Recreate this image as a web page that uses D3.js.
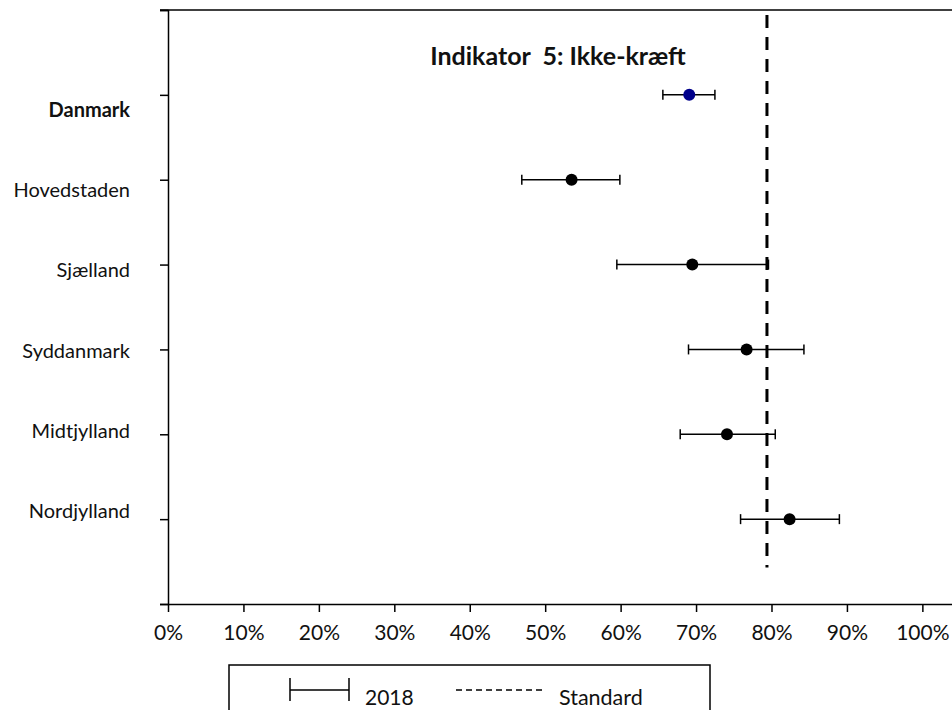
<!DOCTYPE html>
<html>
<head>
<meta charset="utf-8">
<script src="https://cdn.jsdelivr.net/npm/d3@7"></script>
<style>
  body { margin: 0; background: #fff; }
  svg { display: block; font-family: Lato, "Open Sans", sans-serif; }
</style>
</head>
<body>
<svg id="chart" width="952" height="710"></svg>
<script>
// data
const regioner = ['Danmark', 'Hovedstaden', 'Sjælland', 'Syddanmark', 'Midtjylland', 'Nordjylland'];
const andel = [0.691, 0.535, 0.695, 0.767, 0.741, 0.824];
const nedre = [0.656, 0.469, 0.595, 0.690, 0.679, 0.759];
const oevre = [0.725, 0.599, 0.796, 0.843, 0.805, 0.890];
const standard = 0.794;
const standardSpan = [0.06, 6.57];
const xTicks = [0, 0.1, 0.2, 0.3, 0.4, 0.5, 0.6, 0.7, 0.8, 0.9, 1.0];
const titel = 'Indikator  5: Ikke-kræft';

const svg = d3.select('#chart');
const venstre = 168;
const boven = 10;
const bund = 604;

const x = d3.scaleLinear().domain([0, 1.1]).range([venstre, venstre + 829.8]);
const y = d3.scaleLinear().domain([0, regioner.length + 1]).range([boven, bund]);
// labels sit a little off the ticks, like in the original
const yLabel = d3.scalePoint().domain(regioner).range([117, 518]);

// top border
svg.append('line')
    .attr('x1', venstre - 8).attr('x2', x(1.1))
    .attr('y1', boven).attr('y2', boven)
    .attr('stroke', '#000').attr('stroke-width', 1.5);

// y axis
const yAkse = d3.axisLeft(y).tickValues(d3.range(0, regioner.length + 2)).tickSize(8).tickFormat('');
svg.append('g')
    .attr('transform', `translate(${venstre},0)`)
    .call(yAkse)
    .call(g => g.selectAll('path, line').attr('stroke', '#000').attr('stroke-width', 1.5));

// x axis
const xAkse = d3.axisBottom(x).tickValues(xTicks).tickSize(8).tickSizeOuter(0).tickPadding(13).tickFormat(d3.format('.0%'));
svg.append('g')
    .attr('transform', `translate(0,${bund})`)
    .call(xAkse)
    .call(g => g.selectAll('path, line').attr('stroke', '#000').attr('stroke-width', 1.5))
    .call(g => g.selectAll('text').attr('font-size', 21).attr('fill', '#111').attr('font-family', 'Lato'));

// category labels
svg.append('g').selectAll('text')
    .data(regioner)
    .join('text')
    .attr('x', 130)
    .attr('y', d => yLabel(d))
    .attr('text-anchor', 'end')
    .attr('font-size', 20)
    .attr('font-weight', (d, i) => i === 0 ? 'bold' : 'normal')
    .attr('fill', '#111')
    .text(d => d);

// title
svg.append('text')
    .attr('x', 558).attr('y', 65)
    .attr('text-anchor', 'middle')
    .attr('font-size', 25)
    .attr('font-weight', 'bold')
    .style('white-space', 'pre')
    .attr('fill', '#111')
    .text(titel);

// standard line
svg.append('line')
    .attr('x1', x(standard)).attr('x2', x(standard))
    .attr('y1', y(standardSpan[0])).attr('y2', y(standardSpan[1]))
    .attr('stroke', '#000').attr('stroke-width', 3)
    .attr('stroke-dasharray', '13,9');

// error bars
const fejl = svg.append('g').selectAll('g')
    .data(regioner)
    .join('g')
    .attr('stroke', '#000').attr('stroke-width', 1.5);

fejl.append('line')
    .attr('x1', (d, i) => x(nedre[i])).attr('x2', (d, i) => x(oevre[i]))
    .attr('y1', (d, i) => y(i + 1)).attr('y2', (d, i) => y(i + 1));
fejl.append('line')
    .attr('x1', (d, i) => x(nedre[i])).attr('x2', (d, i) => x(nedre[i]))
    .attr('y1', (d, i) => y(i + 1) - 5).attr('y2', (d, i) => y(i + 1) + 5);
fejl.append('line')
    .attr('x1', (d, i) => x(oevre[i])).attr('x2', (d, i) => x(oevre[i]))
    .attr('y1', (d, i) => y(i + 1) - 5).attr('y2', (d, i) => y(i + 1) + 5);

// points
svg.append('g').selectAll('circle')
    .data(regioner)
    .join('circle')
    .attr('cx', (d, i) => x(andel[i]))
    .attr('cy', (d, i) => y(i + 1))
    .attr('r', 6)
    .attr('fill', (d, i) => i === 0 ? '#00008b' : '#000');

// legend
const legende = svg.append('g');
legende.append('rect')
    .attr('x', 229).attr('y', 665)
    .attr('width', 481).attr('height', 60)
    .attr('fill', 'none').attr('stroke', '#000').attr('stroke-width', 1.5);
legende.append('path')
    .attr('d', 'M290,678V701M290,690H349M349,678V701')
    .attr('fill', 'none').attr('stroke', '#000').attr('stroke-width', 1.5);
legende.append('text')
    .attr('x', 365).attr('y', 705)
    .attr('font-size', 21).attr('fill', '#111')
    .text('2018');
legende.append('line')
    .attr('x1', 456).attr('x2', 542).attr('y1', 690).attr('y2', 690)
    .attr('stroke', '#000').attr('stroke-width', 1.5)
    .attr('stroke-dasharray', '6,4');
legende.append('text')
    .attr('x', 559).attr('y', 705)
    .attr('font-size', 21.5).attr('fill', '#111')
    .text('Standard');
</script>
</body>
</html>
